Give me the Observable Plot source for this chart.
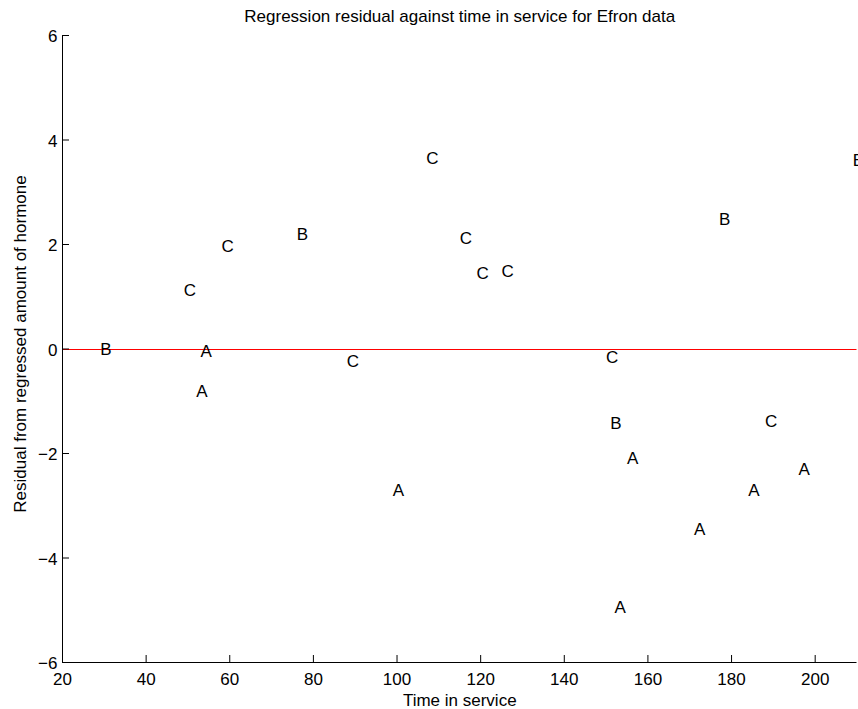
<!DOCTYPE html>
<html><head><meta charset="utf-8">
<script src="https://cdn.jsdelivr.net/npm/d3@7"></script>
<script src="https://cdn.jsdelivr.net/npm/@observablehq/plot@0.6"></script>
<style>html,body{margin:0;padding:0;background:#fff;overflow:hidden} svg{display:block}</style>
</head><body><div id="chart"></div>
<script>
const titleText = "Regression residual against time in service for Efron data";
const xLabel = "Time in service";
const yLabel = "Residual from regressed amount of hormone";
const xDomain = [20, 210];
const yDomain = [-6, 6];
const xTicks = [20, 40, 60, 80, 100, 120, 140, 160, 180, 200];
const yTicks = [-6, -4, -2, 0, 2, 4, 6];
const lots = ["B","A","A","C","C","B","C","A","C","C","C","C","C","B","A","A","A","B","A","C","A","B"];
const hours = [29,53,52,49,58,76,88,99,107,115,119,125,150,151,152,155,171,177,184,188,196,209];
const residuals = [-0.02,-0.04,-0.81,1.12,1.96,2.19,-0.24,-2.71,3.64,2.12,1.45,1.48,-0.16,-1.42,-4.94,-2.09,-3.46,2.48,-2.71,-1.38,-2.30,3.61];

const data = hours.map((h, i) => ({hours: h, residual: residuals[i], lot: lots[i]}));

const W = 858, H = 709, ML = 62, MR = 1.5, MT = 35, MB = 47;
const TICK = 7;
const fmt = d => String(d).replace("-", "\u2212");

const chart = Plot.plot({
  width: W, height: H,
  marginLeft: ML, marginRight: MR, marginTop: MT, marginBottom: MB,
  style: {fontFamily: "'Liberation Sans', Arial, sans-serif", fontSize: "17px", background: "white", color: "black"},
  x: {domain: xDomain},
  y: {domain: yDomain},
  marks: [
    Plot.ruleY([0], {stroke: "#ff0000", strokeWidth: 1, dy: 0.5}),
    Plot.ruleX([xDomain[0]], {stroke: "black"}),
    Plot.ruleY([yDomain[0]], {stroke: "black"}),
    Plot.tickX(xTicks, {stroke: "black", insetTop: (H - MT - MB) - TICK}),
    Plot.tickY(yTicks, {stroke: "black", insetRight: (W - ML - MR) - TICK}),
    Plot.axisX(xTicks, {tickSize: 0, tickPadding: 10.7, fontSize: 17, label: null, fill: "black", tickFormat: fmt}),
    Plot.axisY(yTicks, {tickSize: 0, tickPadding: 5, fontSize: 17, label: null, fill: "black", tickFormat: fmt, dy: 1.5}),
    Plot.text(data, {x: "hours", y: "residual", text: "lot", textAnchor: "start", lineAnchor: "middle", fontSize: 17, fill: "black"}),
    Plot.text([titleText], {text: d => d, frameAnchor: "top", textAnchor: "middle", lineAnchor: "middle", dy: -18.7, fontSize: 17, fill: "black"}),
    Plot.text([xLabel], {text: d => d, frameAnchor: "bottom", textAnchor: "middle", lineAnchor: "middle", dy: 37.6, fontSize: 17, fill: "black"}),
    Plot.text([yLabel], {text: d => d, frameAnchor: "left", textAnchor: "middle", lineAnchor: "middle", rotate: -90, dx: -42.4, dy: -5, fontSize: 17, fill: "black"})
  ]
});
document.getElementById("chart").appendChild(chart);
</script>
</body></html>
